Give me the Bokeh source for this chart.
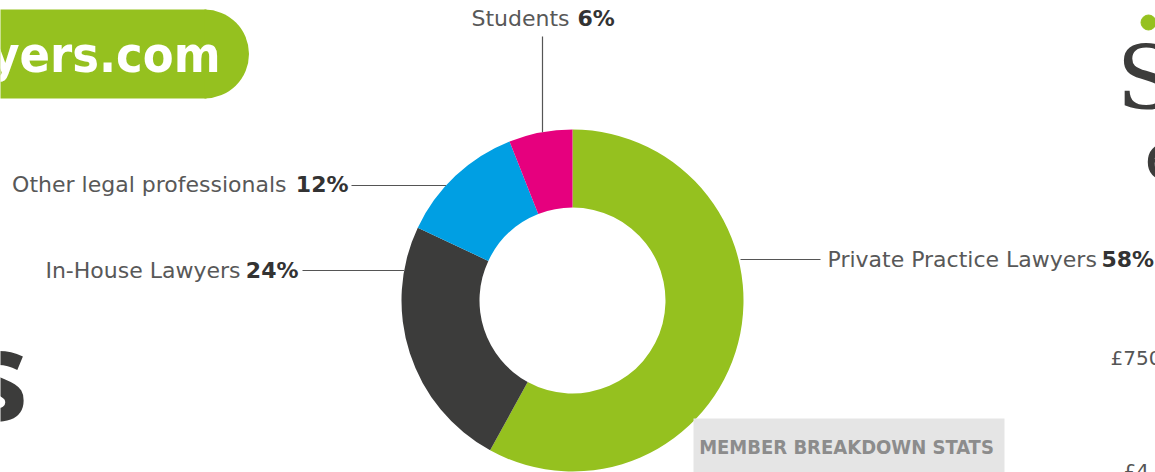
import math
from bokeh.plotting import figure
from bokeh.models import Range1d
from bokeh.core.properties import value
from bokeh.embed import file_html
from bokeh.resources import INLINE

# ---- data ----
categories = ["Private Practice Lawyers", "In-House Lawyers", "Other legal professionals", "Students"]
shares = [58, 24, 12, 6]
colors = ["#95c11f", "#3c3c3b", "#009fe3", "#e6007e"]
pct_labels = ["58%", "24%", "12%", "6%"]

W, H = 1155, 472
p = figure(width=W, height=H, output_backend="svg", toolbar_location=None,
           x_range=Range1d(0, W), y_range=Range1d(0, H), min_border=0)
p.axis.visible = False
p.grid.visible = False
p.outline_line_color = None
p.background_fill_color = "white"

def Y(y):  # pixel-from-top to data
    return H - y

cx, cy = 572, Y(300)
r_out, r_in = 171, 93

# donut
total = sum(shares)
start = math.pi / 2
starts, ends = [], []
for s in shares:
    a = 2 * math.pi * s / total
    starts.append(start)
    ends.append(start - a)
    start -= a
p.annular_wedge(x=[cx] * 4, y=[cy] * 4, inner_radius=r_in, outer_radius=r_out,
                start_angle=ends, end_angle=starts, color=colors, line_color=None)

txt_col = "#585858"
pct_col = "#333333"
fs = "22px"
font = value("DejaVu Sans")
cond = value("DejaVu Sans Condensed, Liberation Sans Narrow, Roboto Condensed, Roboto")

def leader(x0, x1, y):
    p.line([x0, x1], [Y(y), Y(y)], line_color="#555555", line_width=1.2)

def edge_x(y, side):
    dy = Y(y) - cy
    return cx + side * math.sqrt(r_out ** 2 - dy ** 2)

# Private practice (right)
leader(edge_x(259, 1) + 2, 820, 259)
p.text([827], [Y(259)], text=[categories[0]], text_font=font, text_font_size=fs,
       text_color=txt_col, text_baseline="middle", text_align="left")
p.text([1101], [Y(259)], text=[pct_labels[0]], text_font=font, text_font_size=fs,
       text_font_style="bold", text_color=pct_col, text_baseline="middle", text_align="left")

# In-house (left)
leader(302, edge_x(270, -1), 270)
p.text([298], [Y(270)], text=[pct_labels[1]], text_font=font, text_font_size=fs,
       text_font_style="bold", text_color=pct_col, text_baseline="middle", text_align="right")
p.text([240], [Y(270)], text=[categories[1]], text_font=font, text_font_size=fs,
       text_color=txt_col, text_baseline="middle", text_align="right")

# Other legal professionals
leader(351, edge_x(185, -1), 185)
p.text([348], [Y(184)], text=[pct_labels[2]], text_font=font, text_font_size=fs,
       text_font_style="bold", text_color=pct_col, text_baseline="middle", text_align="right")
p.text([286], [Y(184)], text=[categories[2]], text_font=font, text_font_size=fs,
       text_color=txt_col, text_baseline="middle", text_align="right")

# Students (top)
p.line([542, 542], [Y(36), cy + math.sqrt(r_out ** 2 - 30 ** 2)], line_color="#555555", line_width=1.2)
p.text([569], [Y(18)], text=[categories[3]], text_font=font, text_font_size=fs,
       text_color=txt_col, text_baseline="middle", text_align="right")
p.text([577], [Y(18)], text=[pct_labels[3]], text_font=font, text_font_size=fs,
       text_font_style="bold", text_color=pct_col, text_baseline="middle", text_align="left")

# ---- decorative fragments of the surrounding infographic ----
green = "#95c11f"
p.quad(left=[-10], right=[206], top=[Y(9)], bottom=[Y(98)], fill_color=green, line_color=None)
p.wedge(x=[204], y=[Y(53.5)], radius=44.5, start_angle=-math.pi / 2, end_angle=math.pi / 2,
        fill_color=green, line_color=None)
p.text([220], [Y(54)], text=["yers.com"], text_font=cond, text_font_size="50px",
       text_font_style="bold", text_color="white", text_baseline="middle", text_align="right")

p.text([28], [Y(372)], text=["s"], text_font=value("Open Sans"), text_font_size="125px",
       text_font_style="bold", text_color="#3c3c3b", text_baseline="middle", text_align="right")

p.text([1116], [Y(78)], text=["S"], text_font=value("DejaVu Serif"), text_font_size="88px",
       text_color="#3c3c3b", text_baseline="middle", text_align="left")
p.scatter([1148], [Y(22)], size=15, color=green)
p.text([1144], [Y(154)], text=["e"], text_font=value("DejaVu Serif"), text_font_size="66px",
       text_color="#3c3c3b", text_baseline="middle", text_align="left")

p.text([1110], [Y(357)], text=["£750"], text_font=font, text_font_size="20px",
       text_color="#555555", text_baseline="middle", text_align="left")
p.text([1123], [Y(470)], text=["£4"], text_font=font, text_font_size="20px",
       text_color="#555555", text_baseline="middle", text_align="left")

p.quad(left=[693], right=[1004], top=[Y(418)], bottom=[Y(472)], fill_color="#e5e5e5", line_color=None)
p.text([846], [Y(446)], text=["MEMBER BREAKDOWN STATS"], text_font=cond,
       text_font_size="20px", text_font_style="bold", text_color="#8c8c8c",
       text_baseline="middle", text_align="center")

open("out.html", "w").write(file_html(p, INLINE))
